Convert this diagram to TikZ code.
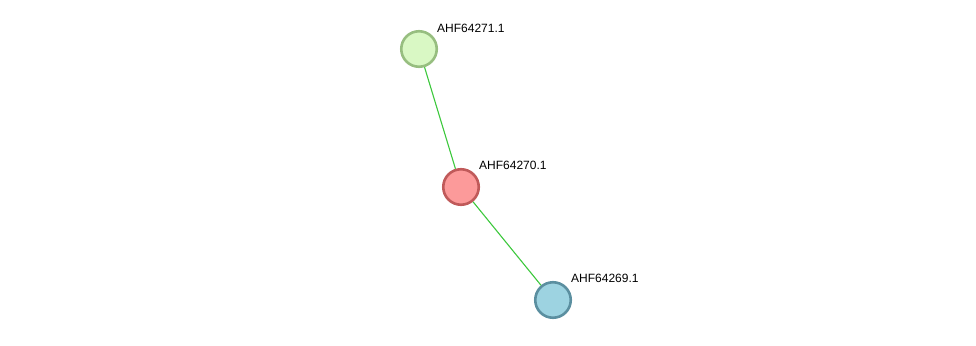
\documentclass[tikz,border=0pt]{standalone}
\usepackage{fontspec}
\setmainfont{Liberation Sans}
\usetikzlibrary{positioning}
\definecolor{greenfill}{HTML}{D9F8C4}
\definecolor{greenline}{HTML}{97BE80}
\definecolor{redfill}{HTML}{FC9A9A}
\definecolor{redline}{HTML}{C05A5A}
\definecolor{bluefill}{HTML}{9DD3E1}
\definecolor{blueline}{HTML}{5B8FA0}
\definecolor{edgegreen}{HTML}{3CC83C}

\begin{document}
\begin{tikzpicture}[
        x=1pt, y=-1pt,
        protein/.style={circle, line width=2.6pt, minimum size=35.5pt, inner sep=0pt},
        plabel/.style={anchor=base west, inner sep=0pt, font=\fontsize{12}{14}\selectfont},
        link/.style={edgegreen, line width=1.1pt}
    ]
        \useasboundingbox (0,0) rectangle (976,345);
        % Nodes
        \node[protein, draw=greenline, fill=greenfill] (p71) at (419,49) {};
        \node[protein, draw=redline, fill=redfill] (p70) at (461,187) {};
        \node[protein, draw=blueline, fill=bluefill] (p69) at (553,300) {};

        % Links
        \draw[link] (p71) -- (p70);
        \draw[link] (p70) -- (p69);

        % Labels
        \node[plabel] (l71) at (437,32.5) {AHF64271.1};
        \node[plabel] (l70) at (479,169.5) {AHF64270.1};
        \node[plabel] (l69) at (571,282.5) {AHF64269.1};
    \end{tikzpicture}
\end{document}
